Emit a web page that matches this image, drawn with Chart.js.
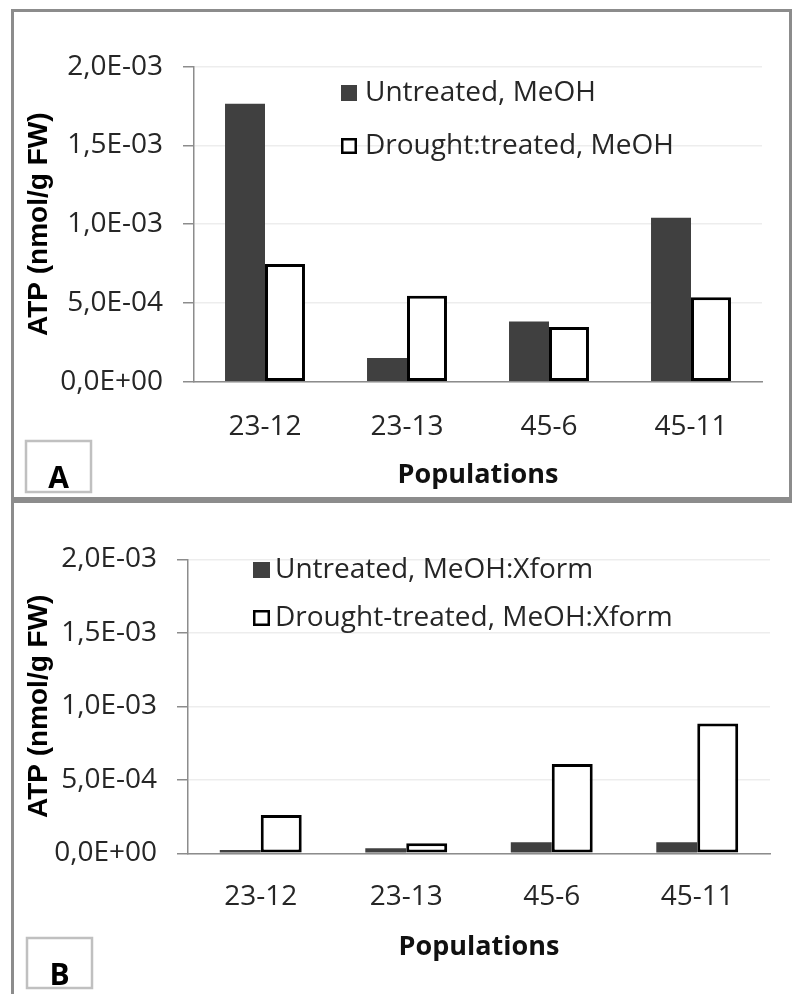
<!DOCTYPE html>
<html>
<head>
<meta charset="utf-8">
<script src="https://cdn.jsdelivr.net/npm/chart.js@4.4.1/dist/chart.umd.min.js"></script>
<style>
  body { margin:0; background:#fff; }
  #page { position:relative; width:792px; height:994px; overflow:hidden; }
  canvas { position:absolute; left:0; }
  #chartA { top:0; }
  #chartB { top:500px; }
  .frame { position:absolute; box-sizing:border-box; border:3px solid #8c8c8c; pointer-events:none; }
  #frameA { left:11px; top:9px; width:781px; height:491px; }
  #frameB { left:11px; top:500px; width:800px; height:510px; }
</style>
</head>
<body>
<div id="page">
  <canvas id="chartA" width="792" height="500"></canvas>
  <canvas id="chartB" width="792" height="494"></canvas>
  <div class="frame" id="frameA"></div>
  <div class="frame" id="frameB"></div>
</div>
<script>
// data (ATP, nmol/g FW)
var populations = ["23-12", "23-13", "45-6", "45-11"];
var untreatedMeOH = [1.765e-3, 0.150e-3, 0.383e-3, 1.041e-3];
var droughtMeOH = [0.747e-3, 0.546e-3, 0.347e-3, 0.536e-3];
var untreatedXform = [0.022e-3, 0.034e-3, 0.075e-3, 0.075e-3];
var droughtXform = [0.260e-3, 0.068e-3, 0.607e-3, 0.883e-3];
var seriesA = ["Untreated, MeOH", "Drought:treated, MeOH"];
var seriesB = ["Untreated, MeOH:Xform", "Drought-treated, MeOH:Xform"];
var yTickLabels = ["0,0E+00", "5,0E-04", "1,0E-03", "1,5E-03", "2,0E-03"];

var DARK = "#404040";
var AXIS = "#8c8c8c";
var TEXT = "#262626";
var TICKFONT = {family:"'Open Sans', sans-serif", size:28};

//legend + letter badge, drawn on top of the chart
var panelDecor = {
  id:"panelDecor",
  afterDraw:function(chart, args, opts){
    var ctx = chart.ctx;
    ctx.save();
    chart.data.datasets.forEach(function(ds, i){
      var y = opts.rows[i];
      var w = opts.box[0], h = opts.box[1];
      if(ds.borderWidth){
        ctx.fillStyle = "#fff";
        ctx.fillRect(opts.x, y - h/2, w, h);
        ctx.strokeStyle = "#000";
        ctx.lineWidth = 2.5;
        ctx.strokeRect(opts.x + 1.25, y - h/2 + 1.25, w - 2.5, h - 2.5);
      }else{
        ctx.fillStyle = ds.backgroundColor;
        ctx.fillRect(opts.x, y - h/2, w, h);
      }
      ctx.fillStyle = TEXT;
      ctx.font = "28px 'Open Sans', sans-serif";
      ctx.textBaseline = "middle";
      ctx.textAlign = "left";
      ctx.fillText(ds.label, opts.textX, y);
    });

    var b = opts.badge;
    ctx.strokeStyle = "#c0c0c0";
    ctx.lineWidth = 2.5;
    ctx.strokeRect(b.x, b.y, b.w, b.h);
    ctx.fillStyle = "#000";
    ctx.font = "bold 30px 'Open Sans', sans-serif";
    ctx.textAlign = "center";
    ctx.textBaseline = "alphabetic";
    ctx.fillText(b.letter, b.x + b.w/2, b.base);
    ctx.restore();
  }
};

function makeChart(id, labels, data1, data2, geo){
  return new Chart(document.getElementById(id), {
    type:"bar",
    data:{
      labels:populations,
      datasets:[
        {label:labels[0], data:data1, backgroundColor:DARK, borderWidth:0},
        {label:labels[1], data:data2, backgroundColor:"#fff", borderColor:"#000", borderWidth:3, borderSkipped:false}
      ]
    },
    options:{
      responsive:false,
      animation:false,
      events:[],
      layout:{padding:{top:geo.top, right:geo.right, left:0, bottom:0}},
      datasets:{bar:{categoryPercentage:0.563, barPercentage:1.0}},
      plugins:{
        legend:{display:false},
        tooltip:{enabled:false},
        panelDecor:geo.decor
      },
      scales:{
        x:{
          grid:{display:false, drawTicks:false},
          border:{display:true, color:AXIS, width:1.5},
          ticks:{font:TICKFONT, color:TEXT, padding:geo.xPad, maxRotation:0},
          title:{display:true, text:"Populations", color:"#111",
            font:{family:"'Open Sans', sans-serif", size:27, weight:"bold"},
            padding:{top:0, bottom:geo.xTitlePad}},
          afterFit:function(s){ s.height = geo.xHeight; }
        },
        y:{
          min:0,
          max:0.002,
          ticks:{stepSize:0.0005, font:TICKFONT, color:TEXT, padding:20,
            callback:function(v, i){ return yTickLabels[i]; }},
          grid:{color:"#ededed", lineWidth:1.5, tickColor:AXIS, tickLength:11},
          border:{display:true, color:AXIS, width:1.5},
          title:{display:true, text:"ATP (nmol/g FW)", color:"#000",
            font:{family:"'Liberation Sans', Arial, sans-serif", size:28, weight:"bold"},
            padding:{top:22.7, bottom:0}},
          afterFit:function(s){ s.width = geo.left; }
        }
      }
    },
    plugins:[panelDecor]
  });
}

makeChart("chartA", seriesA, untreatedMeOH, droughtMeOH, {
  top:66.7, right:30, left:194, xHeight:118.3, xPad:28.5, xTitlePad:8.8,
  decor:{x:341, textX:365, rows:[93, 146], box:[16, 16],
    badge:{x:26, y:441, w:65, h:51, letter:"A", base:488}}
});

makeChart("chartB", seriesB, untreatedXform, droughtXform, {
  top:59.3, right:22, left:188, xHeight:140.7, xPad:27, xTitlePad:30.8,
  decor:{x:253, textX:275, rows:[70, 118], box:[17, 16],
    badge:{x:27, y:438, w:65, h:50, letter:"B", base:485}}
});
</script>
</body>
</html>
